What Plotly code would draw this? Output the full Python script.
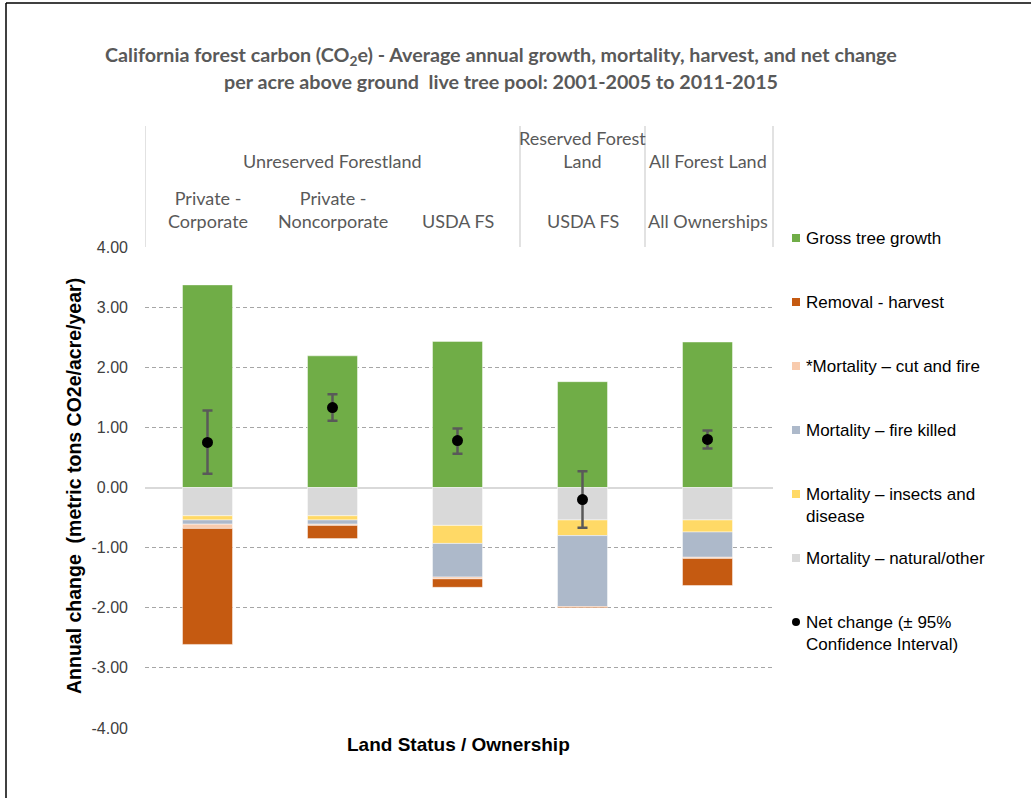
import plotly.graph_objects as go

# ---------------- data ----------------
categories = ["Private - Corporate", "Private - Noncorporate", "USDA FS (unreserved)",
              "USDA FS (reserved)", "All Ownerships"]
gross_growth = [3.37, 2.19, 2.43, 1.76, 2.42]
mort_natural = [-0.47, -0.47, -0.63, -0.54, -0.54]
mort_insects = [-0.07, -0.07, -0.30, -0.26, -0.20]
mort_fire = [-0.07, -0.07, -0.56, -1.18, -0.42]
mort_cut_fire = [-0.07, -0.02, -0.03, -0.005, -0.02]
removal_harvest = [-1.93, -0.22, -0.14, -0.015, -0.45]
net_change = [0.75, 1.33, 0.78, -0.20, 0.80]
ci_high = [1.28, 1.55, 0.98, 0.27, 0.95]
ci_low = [0.23, 1.11, 0.56, -0.67, 0.65]

y_ticks = [4, 3, 2, 1, 0, -1, -2, -3, -4]
y_tick_labels = ["4.00", "3.00", "2.00", "1.00", "0.00", "-1.00", "-2.00", "-3.00", "-4.00"]

header_top = [("Unreserved Forestland", 1.0), ("Reserved Forest<br>Land", 3.0), ("All Forest Land", 4.0)]
header_sub = ["Private -<br>Corporate", "Private -<br>Noncorporate", "USDA FS", "USDA FS", "All Ownerships"]

legend_names = ["Gross tree growth", "Removal - harvest", "*Mortality \u2013 cut and fire",
                "Mortality \u2013 fire killed", "Mortality \u2013 insects and<br>disease",
                "Mortality \u2013 natural/other", "Net change (\u00b1 95%<br>Confidence Interval)"]
c_green, c_orange, c_peach, c_blue, c_yellow, c_gray = "#70AD47", "#C55A11", "#F8CBAD", "#ADB9CA", "#FFD966", "#D9D9D9"
legend_colors = [c_green, c_orange, c_peach, c_blue, c_yellow, c_gray, "#000000"]

# ---------------- layout geometry ----------------
W, H = 1031, 798
L, R, T, B = 145, 773, 247, 728
PW, PH = R - L, B - T


def px(x):
    return (x - L) / PW


def py(y):
    return (B - y) / PH


ARIAL = "Liberation Sans, Arial, sans-serif"
CAL = "Lato, Carlito, Calibri, sans-serif"

xs = list(range(len(categories)))
fig = go.Figure()
bar_line = dict(color="rgba(255,255,255,0.45)", width=1)
for vals, col, name in [(gross_growth, c_green, "Gross tree growth"),
                        (mort_natural, c_gray, "Mortality natural/other"),
                        (mort_insects, c_yellow, "Mortality insects and disease"),
                        (mort_fire, c_blue, "Mortality fire killed"),
                        (mort_cut_fire, c_peach, "Mortality cut and fire"),
                        (removal_harvest, c_orange, "Removal - harvest")]:
    fig.add_trace(go.Bar(x=xs, y=vals, name=name, marker=dict(color=col, line=bar_line),
                         width=0.4, showlegend=False))

fig.add_trace(go.Scatter(
    x=xs, y=net_change, mode="markers", name="Net change",
    marker=dict(color="black", size=11),
    error_y=dict(type="data", symmetric=False,
                 array=[h - n for h, n in zip(ci_high, net_change)],
                 arrayminus=[n - l for l, n in zip(ci_low, net_change)],
                 color="#595959", thickness=2.5, width=5),
    showlegend=False))

shapes = []
annotations = []

# header lines
for xv in [-0.5, 2.5, 3.5]:
    shapes.append(dict(type="line", xref="x", yref="paper", x0=xv, x1=xv, y0=1, y1=py(126),
                       line=dict(color="#D9D9D9", width=1.5)))
shapes.append(dict(type="line", xref="paper", yref="paper", x0=1, x1=1, y0=1, y1=py(126),
                   line=dict(color="#D9D9D9", width=1.5)))

# header texts
for txt, xv in header_top:
    two = "<br>" in txt
    annotations.append(dict(text=txt, xref="x", yref="paper", x=xv, y=py(149 if two else 161),
                            showarrow=False, xanchor="center", yanchor="middle",
                            font=dict(family=CAL, size=18, color="#595959")))
for i, txt in enumerate(header_sub):
    two = "<br>" in txt
    annotations.append(dict(text=txt, xref="x", yref="paper", x=i, y=py(209.5 if two else 221),
                            showarrow=False, xanchor="center", yanchor="middle",
                            font=dict(family=CAL, size=18, color="#595959")))

# title
title_font = dict(family=CAL, size=19.7, color="#595959", weight="bold")
annotations.append(dict(text="California forest carbon (CO<sub>2</sub>e) - Average annual growth, mortality, harvest, and net change",
                        xref="paper", yref="paper", x=px(501), y=py(56), showarrow=False,
                        xanchor="center", yanchor="middle", font=title_font))
annotations.append(dict(text="per acre above ground  live tree pool: 2001-2005 to 2011-2015",
                        xref="paper", yref="paper", x=px(501), y=py(81), showarrow=False,
                        xanchor="center", yanchor="middle", font=title_font))

# axis titles
annotations.append(dict(text="Annual change  (metric tons CO2e/acre/year)", xref="paper", yref="paper",
                        x=px(74), y=py(486), showarrow=False, textangle=-90,
                        xanchor="center", yanchor="middle",
                        font=dict(family=ARIAL, size=19.5, color="#000000", weight="bold")))
annotations.append(dict(text="Land Status / Ownership", xref="paper", yref="paper",
                        x=px(458), y=py(744), showarrow=False, xanchor="center", yanchor="middle",
                        font=dict(family=ARIAL, size=19, color="#000000", weight="bold")))

# manual legend
for k, (name, col) in enumerate(zip(legend_names, legend_colors)):
    yc = 238 + 64 * k
    kind = "circle" if k == len(legend_names) - 1 else "rect"
    shapes.append(dict(type=kind, xref="paper", yref="paper",
                       x0=px(792), x1=px(800), y0=py(yc + 4), y1=py(yc - 4),
                       fillcolor=col, line=dict(width=0)))
    annotations.append(dict(text=name, xref="paper", yref="paper", x=px(804), y=py(yc - 11),
                            showarrow=False, xanchor="left", yanchor="top", align="left",
                            font=dict(family=ARIAL, size=17, color="#000000")))

# outer frame (left and top edges)
shapes.append(dict(type="line", xref="paper", yref="paper", x0=px(6), x1=px(6), y0=py(3), y1=py(800),
                   line=dict(color="#000000", width=1.5)))
shapes.append(dict(type="line", xref="paper", yref="paper", x0=px(6), x1=px(1032), y0=py(3), y1=py(3),
                   line=dict(color="#000000", width=1.5)))

fig.update_layout(
    width=W, height=H,
    margin=dict(l=L, r=W - R, t=T, b=H - B),
    paper_bgcolor="white", plot_bgcolor="white",
    barmode="relative",
    shapes=shapes, annotations=annotations,
    showlegend=False,
    xaxis=dict(range=[-0.5, 4.524], showticklabels=False, showgrid=False, zeroline=False,
               showline=False, fixedrange=True),
    yaxis=dict(range=[-4, 4], tickvals=y_ticks, ticktext=y_tick_labels,
               showgrid=True, gridcolor="#A6A6A6", griddash="4px,3px", gridwidth=1,
               zeroline=True, zerolinecolor="#D9D9D9", zerolinewidth=2,
               showline=False, ticks="", ticklabelstandoff=16,
               tickfont=dict(family=ARIAL, size=16, color="#404040")),
)

fig.write_html("out.html", config={"displayModeBar": False},
               post_script="document.body.style.margin='0';document.body.style.overflow='hidden';")
